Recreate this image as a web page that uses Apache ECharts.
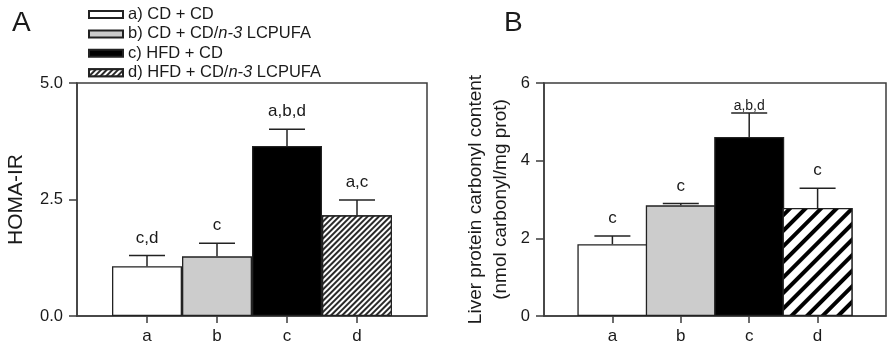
<!DOCTYPE html>
<html>
<head>
<meta charset="utf-8">
<script src="https://cdn.jsdelivr.net/npm/echarts@6/dist/echarts.min.js"></script>
<style>
  html, body { margin: 0; padding: 0; background: #fff; }
  #chart { width: 889px; height: 354px; }
</style>
</head>
<body>
<div id="chart"></div>
<script>
// category slots: empty ends give the padding either side of the bars
const categories = ['', 'a', 'b', 'c', 'd', ''];
const groupNames = ['a) CD + CD', 'b) CD + CD/n-3 LCPUFA', 'c) HFD + CD', 'd) HFD + CD/n-3 LCPUFA'];

// panel A: HOMA-IR
const homaMean = [1.07, 1.28, 3.65, 2.16];
const homaSem = [0.23, 0.28, 0.36, 0.33];
const homaLetters = ['c,d', 'c', 'a,b,d', 'a,c'];
const homaTicks = [0, 2.5, 5];

// panel B: liver protein carbonyl
const carbMean = [1.85, 2.85, 4.61, 2.78];
const carbSem = [0.21, 0.05, 0.62, 0.51];
const carbLetters = ['c', 'c', 'a,b,d', 'c'];
const carbTicks = [0, 2, 4, 6];

const FONT = 'Liberation Sans, Arial, sans-serif';
const AXIS = '#3c3c3c';
const TXT = '#1a1a1a';

const chart = echarts.init(document.getElementById('chart'));

function fills(panel) {
  const hatch = panel === 0
    ? { symbol: 'rect', color: '#2a2a2a', backgroundColor: '#fff', dashArrayX: [1, 0], dashArrayY: [1.3, 1.3], rotation: -Math.PI / 4, symbolSize: 1 }
    : { symbol: 'rect', color: '#000', backgroundColor: '#fff', dashArrayX: [1, 0], dashArrayY: [3.5, 7], rotation: -Math.PI / 4, symbolSize: 1 };
  return [
    { color: '#ffffff' },
    { color: '#cccccc' },
    { color: '#000000' },
    { color: '#ffffff', decal: hatch }
  ];
}

function barSeries(panel, means) {
  const f = fills(panel);
  return means.map((m, i) => ({
    type: 'bar',
    name: panel === 0 ? groupNames[i] : 'B' + i,
    xAxisIndex: panel,
    yAxisIndex: panel,
    barWidth: 70,
    barGap: '-100%',
    data: categories.map((c, j) => (j === i + 1 ? m : '-')),
    itemStyle: Object.assign({ borderColor: '#222', borderWidth: 1.3 }, f[i]),
    emphasis: { disabled: true },
    z: 2
  }));
}

function errorSeries(panel, means, sems, letters) {
  return {
    type: 'custom',
    xAxisIndex: panel,
    yAxisIndex: panel,
    z: 5,
    silent: true,
    data: means.map((m, i) => [i + 1, m, sems[i], i]),
    renderItem: function (params, api) {
      const x = api.value(0);
      const m = api.value(1);
      const s = api.value(2);
      const i = api.value(3);
      const p0 = api.coord([x, m]);
      const p1 = api.coord([x, m + s]);
      // the top label in panel B is squeezed onto its cap
      const tight = panel === 1 && i === 2;
      const ls = { stroke: '#222', lineWidth: 1.5 };
      return {
        type: 'group',
        children: [
          { type: 'line', shape: { x1: p0[0], y1: p0[1], x2: p1[0], y2: p1[1] }, style: ls },
          { type: 'line', shape: { x1: p1[0] - 18, y1: p1[1], x2: p1[0] + 18, y2: p1[1] }, style: ls },
          {
            type: 'text',
            x: p1[0],
            y: p1[1] - (tight ? 0 : 9),
            style: {
              text: letters[i],
              fill: TXT,
              font: (tight ? 14 : 17) + 'px ' + FONT,
              align: 'center',
              verticalAlign: 'bottom'
            }
          }
        ]
      };
    }
  };
}

function xAxis(panel) {
  return {
    type: 'category',
    gridIndex: panel,
    data: categories,
    boundaryGap: false,
    axisLine: { lineStyle: { color: AXIS, width: 1.5 } },
    axisTick: { length: 7, interval: (idx) => idx >= 1 && idx <= 4, lineStyle: { color: AXIS, width: 1.5 } },
    axisLabel: { interval: 0, margin: 12, fontSize: 17, color: TXT, fontFamily: FONT },
    splitLine: { show: false }
  };
}

function yAxis(panel, ticks, name, nameGap) {
  return {
    type: 'value',
    gridIndex: panel,
    min: ticks[0],
    max: ticks[ticks.length - 1],
    interval: ticks[1] - ticks[0],
    name: name,
    nameLocation: 'middle',
    nameGap: nameGap,
    nameTextStyle: panel === 0
      ? { fontSize: 21, color: TXT, fontFamily: FONT }
      : { fontSize: 19, color: TXT, fontFamily: FONT, lineHeight: 25 },
    axisLine: { show: true, lineStyle: { color: AXIS, width: 1.5 } },
    axisTick: { show: true, length: 8, lineStyle: { color: AXIS, width: 1.5 } },
    axisLabel: {
      margin: 14, fontSize: 16.5, color: TXT, fontFamily: FONT,
      formatter: (v) => (panel === 0 ? v.toFixed(1) : String(v))
    },
    splitLine: { show: false }
  };
}

const option = {
  animation: false,
  backgroundColor: '#fff',
  textStyle: { fontFamily: FONT },
  title: [
    { text: 'A', left: 7, top: 4, textStyle: { fontSize: 28, fontWeight: 'normal', color: TXT, fontFamily: FONT } },
    { text: 'B', left: 499, top: 4, textStyle: { fontSize: 28, fontWeight: 'normal', color: TXT, fontFamily: FONT } }
  ],
  legend: {
    data: groupNames,
    orient: 'vertical',
    left: 83,
    top: 1,
    itemWidth: 34,
    itemHeight: 7,
    itemGap: 2.4,
    selectedMode: false,
    icon: 'rect',
    formatter: (n) => n.replace('n-3', '{i|n-3}'),
    textStyle: {
      fontSize: 16.5, color: TXT, fontFamily: FONT, lineHeight: 16,
      rich: { i: { fontStyle: 'italic', fontSize: 16.5, fontFamily: FONT, lineHeight: 16 } }
    }
  },
  grid: [
    { left: 77, top: 83, width: 350, bottom: 38, show: true, borderColor: AXIS, borderWidth: 1.5, backgroundColor: 'transparent' },
    { left: 544, top: 83, width: 350, bottom: 38, show: true, borderColor: AXIS, borderWidth: 1.5, backgroundColor: 'transparent' }
  ],
  xAxis: [xAxis(0), xAxis(1)],
  yAxis: [
    yAxis(0, homaTicks, 'HOMA-IR', 50),
    yAxis(1, carbTicks, 'Liver protein carbonyl content\n(nmol carbonyl/mg prot)', 31)
  ],
  series: [].concat(
    barSeries(0, homaMean),
    barSeries(1, carbMean),
    [errorSeries(0, homaMean, homaSem, homaLetters), errorSeries(1, carbMean, carbSem, carbLetters)]
  )
};

chart.setOption(option);
</script>
</body>
</html>
